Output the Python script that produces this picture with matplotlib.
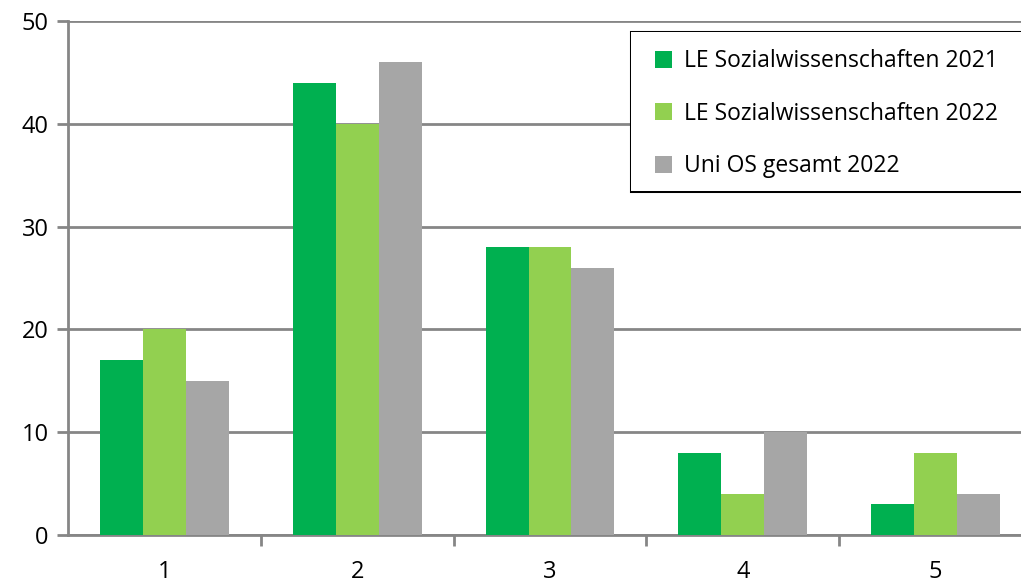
import numpy as np
import matplotlib.pyplot as plt
from matplotlib.patches import Patch, Rectangle
from matplotlib.lines import Line2D

kategorien = ['1', '2', '3', '4', '5']
le_2021 = [17, 44, 28, 8, 3]
le_2022 = [20, 40, 28, 4, 8]
uni_2022 = [15, 46, 26, 10, 4]
serien = ['LE Sozialwissenschaften 2021', 'LE Sozialwissenschaften 2022', 'Uni OS gesamt 2022']
farben = ['#00B050', '#92D050', '#A6A6A6']

plt.rcParams['font.family'] = ['Open Sans', 'DejaVu Sans']
grau = '#868686'

fig = plt.figure(figsize=(10.21, 5.83), dpi=100)
ax = fig.add_axes([68 / 1021, 1 - 535 / 583, 964 / 1021, 514 / 583])

x = np.arange(1, len(kategorien) + 1)
b = 0.223
for i, (werte, farbe) in enumerate(zip([le_2021, le_2022, uni_2022], farben)):
    ax.bar(x + (i - 1) * b, werte, width=b, color=farbe, zorder=3)

ax.set_xlim(0.5, 5.5)
ax.set_ylim(0, 50)
ax.set_yticks(range(0, 51, 10))
ax.set_xticks(x)
ax.set_xticklabels(kategorien)
ax.set_xticks(np.arange(1.5, 5.5, 1), minor=True)
ax.tick_params(axis='x', which='major', length=0, labelsize=17, pad=18)
ax.tick_params(axis='x', which='minor', length=8, width=2, color=grau)
ax.tick_params(axis='y', length=8, width=2, color=grau, labelsize=17, pad=6)
ax.grid(axis='y', color=grau, linewidth=2, zorder=0)
for s in ['top', 'right']:
    ax.spines[s].set_visible(False)
for s in ['left', 'bottom']:
    ax.spines[s].set_color(grau)
    ax.spines[s].set_linewidth(2)

# Legendenrahmen läuft über den rechten Bildrand hinaus (nur drei Seiten sichtbar)
x0, x1 = 631 / 1021, 1.05
y0, y1 = 1 - 191 / 583, 1 - 32 / 583
fig.patches.append(Rectangle((x0, y0), x1 - x0, y1 - y0, transform=fig.transFigure,
                             facecolor='white', edgecolor='none', zorder=5))
fig.lines.append(Line2D([x1, x0, x0, x1], [y1, y1, y0, y0], transform=fig.transFigure,
                        color='black', linewidth=2.2, solid_joinstyle='miter', zorder=5))

griffe = [Patch(facecolor=f, edgecolor='none') for f in farben]
leg = fig.legend(griffe, serien, loc='upper left',
                 bbox_to_anchor=(638 / 1021, 1 - 32 / 583),
                 fontsize=16.5, frameon=False,
                 handlelength=0.75, handleheight=0.75,
                 handletextpad=0.5, labelspacing=1.25, borderpad=0.75,
                 borderaxespad=0)
leg.set_zorder(6)

fig.savefig('out.png', dpi=100)
